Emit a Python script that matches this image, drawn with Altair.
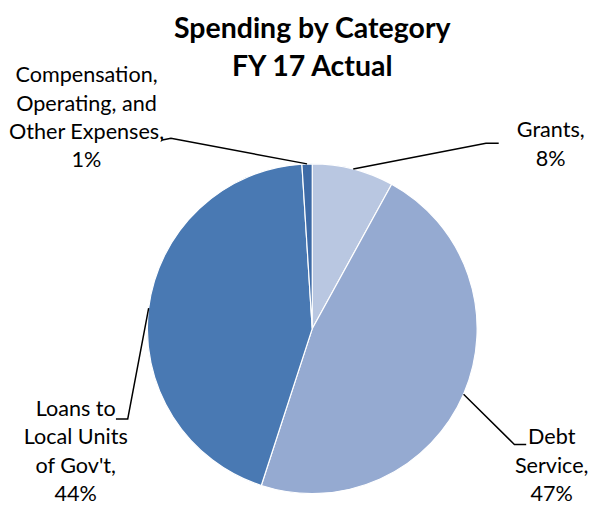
import math
import altair as alt
import pandas as pd

# ---- data ----
categories = ["Grants", "Debt Service", "Loans to Local Units of Gov't",
              "Compensation, Operating, and Other Expenses"]
values = [8.0, 47.0, 44.0, 1.0]
colors = ["#B9C7E1", "#95AAD1", "#4979B3", "#3E6BA7"]
label_lines = [
    ["Grants,", "8%"],
    ["Debt", "Service,", "47%"],
    ["Loans to", "Local Units", "of Gov't,", "44%"],
    ["Compensation,", "Operating, and", "Other Expenses,", "1%"],
]
title_lines = ["Spending by Category", "FY 17 Actual"]

# ---- layout (chart coordinates, page minus 8px margin) ----
W, H = 575, 480
CX, CY, R = 308, 322, 168
label_anchor = [(551, 120), (552, 433), (67, 404), (78, 64)]  # center x, first-line y
LINE_H = 28.8
# elbow and end points for leader lines
leader_mid = [(485, 133), (514, 440), (120, 414), (164, 128)]
leader_end = [(498, 133), (526, 440), (108, 414), (154, 130)]

df = pd.DataFrame({"category": categories, "value": values,
                   "idx": list(range(len(categories)))})

arcs = alt.Chart(df).mark_arc(radius=R, stroke="white", strokeWidth=1.2).encode(
    theta=alt.Theta("value:Q", stack=True),
    order=alt.Order("idx:Q"),
    color=alt.Color("category:N", scale=alt.Scale(domain=categories, range=colors),
                    legend=None),
    x=alt.value(CX), y=alt.value(CY),
)

# labels
rows = []
for i, lines in enumerate(label_lines):
    lx, ly = label_anchor[i]
    for j, t in enumerate(lines):
        rows.append({"text": t, "x": lx, "y": ly + j * LINE_H})
lab_df = pd.DataFrame(rows)
labels = alt.Chart(lab_df).mark_text(font="Lato", fontSize=22, color="#000000",
                                     align="center", baseline="middle").encode(
    x=alt.X("x:Q", scale=None, axis=None),
    y=alt.Y("y:Q", scale=None, axis=None),
    text="text:N",
)

# leader lines, start from slice mid-angles
total = sum(values)
cum = 0.0
lrows = []
for i, v in enumerate(values):
    mid = (cum + v / 2) / total * 2 * math.pi
    cum += v
    sx = CX + R * math.sin(mid)
    sy = CY - R * math.cos(mid)
    pts = [(sx, sy), leader_mid[i], leader_end[i]]
    for k, (px, py) in enumerate(pts):
        lrows.append({"cat": categories[i], "k": k, "x": px, "y": py})
lead_df = pd.DataFrame(lrows)
leaders = alt.Chart(lead_df).mark_line(color="#000000", strokeWidth=1.5).encode(
    x=alt.X("x:Q", scale=None, axis=None),
    y=alt.Y("y:Q", scale=None, axis=None),
    detail="cat:N",
    order="k:Q",
)

tdf = pd.DataFrame({"text": title_lines, "x": [308, 308], "y": [17, 56]})
title = alt.Chart(tdf).mark_text(font="Lato", fontSize=29, fontWeight="bold",
                                 color="#000000", align="center",
                                 baseline="middle").encode(
    x=alt.X("x:Q", scale=None, axis=None),
    y=alt.Y("y:Q", scale=None, axis=None),
    text="text:N",
)

chart = alt.layer(arcs, leaders, labels, title).properties(
    width=W, height=H, padding=0, background="white"
).configure_view(stroke=None)

chart.save("out.html", embed_options={"renderer": "svg", "actions": False})
